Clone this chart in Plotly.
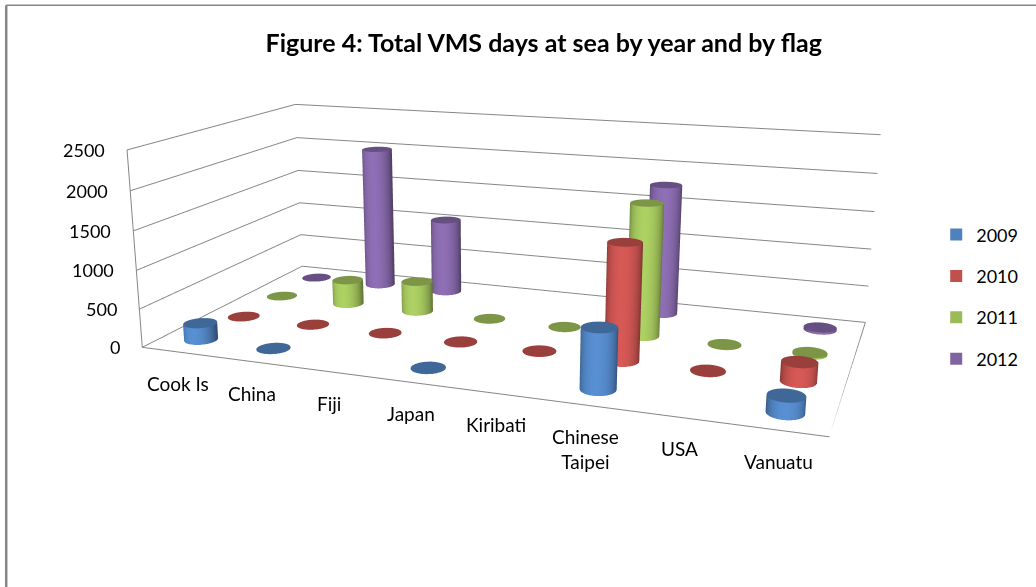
import numpy as np
import plotly.graph_objects as go

categories = ["Cook Is", "China", "Fiji", "Japan", "Kiribati", "Chinese<br>Taipei", "USA", "Vanuatu"]
series_names = ["2009", "2010", "2011", "2012"]
colors = ["#4F81BD", "#C0504D", "#9BBB59", "#8064A2"]
v2009 = [220, 5, None, 5, None, 740, None, 200]
v2010 = [5, 5, 5, 5, 5, 1480, 5, 240]
v2011 = [5, 340, 420, 5, 5, 1740, 5, 20]
v2012 = [5, 2000, 1050, None, None, 1770, None, 30]
values = [v2009, v2010, v2011, v2012]
z_ticks = [0, 500, 1000, 1500, 2000, 2500]
W, H = 1036, 587

# Camera worked out from the edges of the box in the picture
eye = np.array([0.5583, -1.5992, 0.4162])
cen = np.array([-0.0703, 0.0431, -0.0790])
ux, uy = -0.0862, 0.2359
asp = np.array([0.8898, 0.4458, 0.2651])
hh, pcx, pcy = 1077.5673, 476.3924, 283.6607

FH = int(round(hh))              # plotly's fixed 45 degree view needs a page this tall
T = FH / 2 - pcy                 # part of the figure above the window
py = lambda y: 1 - (y + T) / FH
hw = max(pcx, W - pcx)
FW = int(round(2 * hw))
L = hw - pcx
px = lambda x: (x + L) / FW


def hex2rgb(h):
    return np.array([int(h[i:i + 2], 16) for i in (1, 3, 5)], float)


def cyl(series):
    xs, ys, zs, I, J, K, col = [], [], [], [], [], [], []
    base = hex2rgb(colors[series])
    n = 28
    rx, ry = 0.2, 0.21
    view = eye / np.linalg.norm(eye)
    for c, val in enumerate(values[series]):
        if val is None:
            continue
        cx, cy = c + .5, series + .5
        s = len(xs)
        for b in range(n):
            a = 2 * np.pi * b / n
            nx, ny = np.cos(a), np.sin(a)
            xs += [cx + rx * nx, cx + rx * nx]
            ys += [cy + ry * ny, cy + ry * ny]
            zs += [0, val]
            lit = max(0.0, nx * view[0] * .4 + ny * view[1] * .9)
            shade = 0.62 + 0.6 * lit
            cc = np.clip(base * shade, 0, 255).astype(int)
            col += [f"rgb({cc[0]},{cc[1]},{cc[2]})"] * 2
            b2 = (b + 1) % n
            I += [s + 2 * b, s + 2 * b + 1]
            J += [s + 2 * b2, s + 2 * b2]
            K += [s + 2 * b + 1, s + 2 * b2 + 1]
        t0 = len(xs)
        xs.append(cx); ys.append(cy); zs.append(val)
        cc = (base * 0.8).astype(int)
        col.append(f"rgb({cc[0]},{cc[1]},{cc[2]})")
        for b in range(n):
            a = 2 * np.pi * b / n
            xs.append(cx + rx * np.cos(a)); ys.append(cy + ry * np.sin(a)); zs.append(val)
            col.append(f"rgb({cc[0]},{cc[1]},{cc[2]})")
            I.append(t0); J.append(t0 + 1 + b); K.append(t0 + 1 + (b + 1) % n)
    return go.Mesh3d(x=xs, y=ys, z=zs, i=I, j=J, k=K, vertexcolor=col, showlegend=False, hoverinfo="skip",
                     lighting=dict(ambient=1, diffuse=0, specular=0, roughness=1, fresnel=0), flatshading=False)


nc, ns, zmax = len(categories), len(series_names), z_ticks[-1]
fig = go.Figure()
for s in range(ns):
    fig.add_trace(cyl(s))

lx, ly, lz = [], [], []
def seg(a, b):
    lx.extend([a[0], b[0], None]); ly.extend([a[1], b[1], None]); lz.extend([a[2], b[2], None])
seg((0, 0, 0), (nc, 0, 0))
seg((nc, 0, 0), (nc, ns, 0))
seg((0, 0, 0), (0, 0, zmax))
for i in range(1, nc + 1):
    seg((i, 0, 0), (i, -0.12, 0))
for t in z_ticks:
    seg((0, 0, t), (-0.1, 0, t))
fig.add_trace(go.Scatter3d(x=lx, y=ly, z=lz, mode="lines", line=dict(color="#868686", width=2),
                           showlegend=False, hoverinfo="skip"))

for s in range(ns):
    fig.add_trace(go.Scatter(x=[None], y=[None], mode="markers", name=series_names[s], legendgroup=series_names[s],
                             marker=dict(symbol="square", size=12, color=colors[s])))

annots = []
for i, c in enumerate(categories):
    annots.append(dict(x=i + .5, y=0, z=0, text=c, showarrow=False, xanchor="center", yanchor="top",
                       xshift=0, yshift=-18, font=dict(family="Lato", size=19, color="#000")))
for t in z_ticks:
    annots.append(dict(x=0, y=0, z=t, text=str(t), showarrow=False, xanchor="right", yanchor="middle",
                       xshift=-20, font=dict(family="Lato", size=18, color="#000")))

axis = dict(showgrid=False, showbackground=False, zeroline=False, showline=False, showticklabels=False,
            ticks="", title="", showspikes=False)
fig.update_layout(
    width=FW, height=FH, margin=dict(l=0, r=0, t=0, b=0), paper_bgcolor="white", plot_bgcolor="white",
    font=dict(family="Lato"),
    title=dict(text="<b>Figure 4: Total VMS days at sea by year and by flag</b>", x=px(543.5), y=py(43),
               xanchor="center", yanchor="middle", font=dict(family="Lato", size=25, color="#000")),
    xaxis=dict(visible=False), yaxis=dict(visible=False),
    legend=dict(x=px(936), y=py(216), xanchor="left", yanchor="top", tracegroupgap=15,
                font=dict(family="Lato", size=18, color="#000"), itemwidth=30),
    scene=dict(
        domain=dict(x=[0, 1], y=[0, 1]),
        xaxis=dict(axis, range=[0, nc]),
        yaxis=dict(axis, range=[0, ns]),
        zaxis=dict(axis, range=[0, zmax], showgrid=True, gridcolor="#868686", gridwidth=2, tickvals=z_ticks),
        aspectmode="manual", aspectratio=dict(x=asp[0], y=asp[1], z=asp[2]),
        camera=dict(eye=dict(x=eye[0], y=eye[1], z=eye[2]), center=dict(x=cen[0], y=cen[1], z=cen[2]),
                    up=dict(x=ux, y=uy, z=1), projection=dict(type="perspective")),
        annotations=annots,
    ),
    shapes=[dict(type="line", xref="paper", yref="paper", x0=px(6), x1=px(6), y0=py(587), y1=py(5),
                 line=dict(color="#868686", width=2.5)),
            dict(type="line", xref="paper", yref="paper", x0=px(6), x1=px(1036), y0=py(5), y1=py(5),
                 line=dict(color="#868686", width=1.5))],
)
post = ("document.body.style.margin='0';document.documentElement.style.overflow='hidden';"
        "document.body.style.overflow='hidden';"
        "var g=document.getElementById('{plot_id}');g.style.marginTop='%dpx';g.style.marginLeft='%dpx';" % (-round(T), -round(L)))
fig.write_html("out.html", post_script=post, config=dict(displayModeBar=False))
